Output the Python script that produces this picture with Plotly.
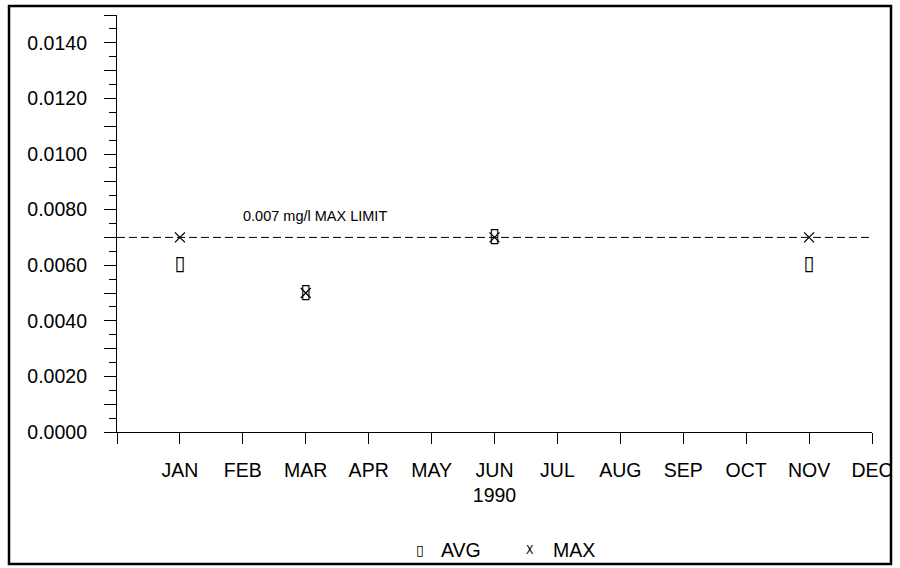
import plotly.graph_objects as go

# Monthly results, 1990 (mg/l); months with no sample are omitted
months = ["JAN", "FEB", "MAR", "APR", "MAY", "JUN", "JUL", "AUG", "SEP", "OCT", "NOV", "DEC"]
sample_months = [1, 3, 6, 11]
avg_values = [0.0060, 0.0050, 0.0070, 0.0060]
max_values = [0.0070, 0.0050, 0.0070, 0.0070]
limit_value = 0.007
limit_label = "0.007 mg/l MAX LIMIT"

W, H = 900, 568
ML, MR, MT, MB = 117, 28, 15, 136
PW, PH = W - ML - MR, H - MT - MB
FONT = "Liberation Sans, Arial, sans-serif"


def px_x(px):
    return (px - ML) / PW


def px_y(py):
    return (H - MB - py) / PH


fig = go.Figure()

# AVG: open upright rectangle glyph
fig.add_trace(go.Scatter(
    x=sample_months, y=avg_values, mode="text", text=["▯"] * len(avg_values),
    textfont=dict(family="DejaVu Sans", size=20, color="black"),
    textposition="middle center", showlegend=False, hoverinfo="x+y", name="AVG",
))
# MAX: thin x
fig.add_trace(go.Scatter(
    x=sample_months, y=max_values, mode="markers", name="MAX",
    marker=dict(symbol="x-thin", size=10, line=dict(width=1.3, color="black"), color="black"),
    showlegend=False,
))

# Regulatory limit line
fig.add_shape(type="line", xref="x", yref="y", x0=0, x1=12, y0=limit_value, y1=limit_value,
              line=dict(color="black", width=1, dash="8px,4px"))
fig.add_annotation(x=3.15, y=limit_value, xref="x", yref="y", text=limit_label, showarrow=False,
                   yshift=21, font=dict(family=FONT, size=14.5, color="black"))

# Outer frame
fig.add_shape(type="rect", xref="paper", yref="paper",
              x0=px_x(9), x1=px_x(891), y0=px_y(564), y1=px_y(6),
              line=dict(color="black", width=2.5), fillcolor="rgba(0,0,0,0)")

# Legend row
leg_y = px_y(550)
legend_items = [
    (420, "▯", dict(family="DejaVu Sans", size=14, color="black")),
    (461, "AVG", dict(family=FONT, size=19.5, color="black")),
    (530, "X", dict(family="DejaVu Sans Condensed", size=12, color="black")),
    (574, "MAX", dict(family=FONT, size=19.5, color="black")),
]
for px, txt, fnt in legend_items:
    fig.add_annotation(x=px_x(px), y=leg_y, xref="paper", yref="paper", text=txt,
                       showarrow=False, xanchor="center", yanchor="middle", font=fnt)

y_major = [i * 0.001 for i in range(16)]
y_text = [f"{v:.4f}" if i % 2 == 0 and i <= 14 else "" for i, v in enumerate(y_major)]

fig.update_layout(
    width=W, height=H,
    margin=dict(l=ML, r=MR, t=MT, b=MB, autoexpand=False),
    paper_bgcolor="white", plot_bgcolor="white",
    font=dict(family=FONT, size=19.5, color="black"),
    showlegend=False,
    xaxis=dict(
        range=[0, 12], showgrid=False, zeroline=False, automargin=False,
        showline=True, linecolor="black", linewidth=1.2,
        tickvals=list(range(0, 13)), ticktext=[""] + months,
        ticks="outside", ticklen=11, tickwidth=1, tickcolor="black",
        ticklabelstandoff=9,
        title=dict(text="1990", standoff=8, font=dict(family=FONT, size=19.5)),
    ),
    yaxis=dict(
        range=[0, 0.015], showgrid=False, zeroline=False, automargin=False,
        showline=True, linecolor="black", linewidth=1.2,
        tickvals=y_major, ticktext=y_text,
        ticks="outside", ticklen=12, tickwidth=1, tickcolor="black",
        ticklabelstandoff=13,
        minor=dict(dtick=0.0005, tick0=0, ticks="outside", ticklen=7, tickwidth=1, tickcolor="black"),
    ),
)

fig.write_html("out.html")
